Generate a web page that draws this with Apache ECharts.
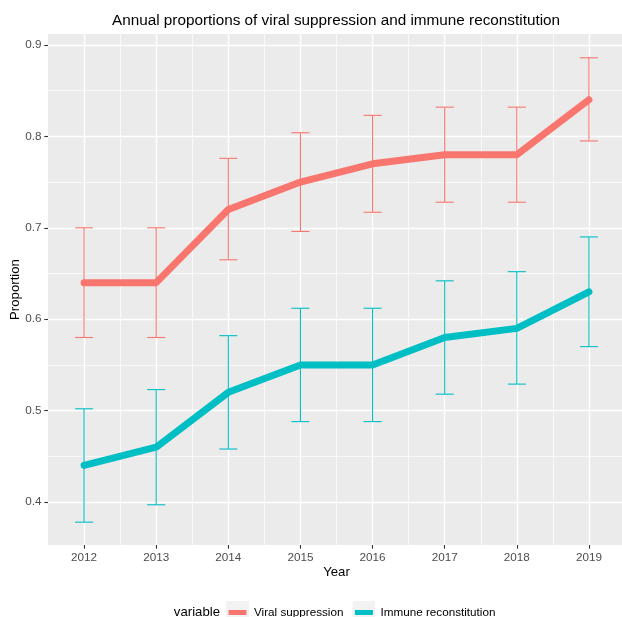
<!DOCTYPE html>
<html>
<head>
<meta charset="utf-8">
<script src="https://cdn.jsdelivr.net/npm/echarts@6/dist/echarts.min.js"></script>
<style>
  html, body { margin: 0; padding: 0; background: #ffffff; }
  #chart { width: 622px; height: 617px; }
</style>
</head>
<body>
<div id="chart"></div>
<script>
// Survey years
const years = [2012, 2013, 2014, 2015, 2016, 2017, 2018, 2019];

// Proportion with viral suppression, with lower/upper confidence limits
const viral     = [0.64, 0.64, 0.72, 0.75, 0.77, 0.78, 0.78, 0.84];
const viralLow  = [0.58, 0.58, 0.665, 0.696, 0.717, 0.728, 0.728, 0.795];
const viralHigh = [0.70, 0.70, 0.776, 0.804, 0.823, 0.832, 0.832, 0.886];

// Proportion with immune reconstitution, with lower/upper confidence limits
const immune     = [0.44, 0.46, 0.52, 0.55, 0.55, 0.58, 0.59, 0.63];
const immuneLow  = [0.378, 0.397, 0.458, 0.488, 0.488, 0.518, 0.529, 0.570];
const immuneHigh = [0.502, 0.523, 0.582, 0.612, 0.612, 0.642, 0.652, 0.690];

// Axis breaks
const yBreaks = [0.4, 0.5, 0.6, 0.7, 0.8, 0.9];
const yMinorBreaks = [0.45, 0.55, 0.65, 0.75, 0.85];
const xMinorBreaks = [2012.5, 2013.5, 2014.5, 2015.5, 2016.5, 2017.5, 2018.5];

const seriesNames = ['Viral suppression', 'Immune reconstitution'];
const colors = ['#F8766D', '#00BFC4'];

const FONT = '"Liberation Sans", Arial, sans-serif';

function pairs(xs, ys) { return xs.map((x, i) => [x, ys[i]]); }
function triples(xs, lo, hi) { return xs.map((x, i) => [x, lo[i], hi[i]]); }

// Error bars: vertical whisker with horizontal caps, cap width in x units
function errorBarRenderer(color) {
  return function (params, api) {
    const x = api.value(0);
    const lo = api.coord([x, api.value(1)]);
    const hi = api.coord([x, api.value(2)]);
    const halfCap = api.size([0.125, 0])[0];
    const style = { stroke: color, lineWidth: 1.1, fill: null };
    return {
      type: 'group',
      children: [
        { type: 'line', shape: { x1: lo[0], y1: lo[1], x2: hi[0], y2: hi[1] }, style },
        { type: 'line', shape: { x1: hi[0] - halfCap, y1: hi[1], x2: hi[0] + halfCap, y2: hi[1] }, style },
        { type: 'line', shape: { x1: lo[0] - halfCap, y1: lo[1], x2: lo[0] + halfCap, y2: lo[1] }, style }
      ]
    };
  };
}

// Panel grid lines (white, major thicker than minor)
const gridLines = []
  .concat(years.map(v => ({ xAxis: v, lineStyle: { width: 1.4 } })))
  .concat(xMinorBreaks.map(v => ({ xAxis: v, lineStyle: { width: 0.7 } })))
  .concat(yBreaks.map(v => ({ yAxis: v, lineStyle: { width: 1.4 } })))
  .concat(yMinorBreaks.map(v => ({ yAxis: v, lineStyle: { width: 0.7 } })));

// Legend key: light grey square with a coloured stroke across it
function keyIcon(color) {
  const svg = '<svg xmlns="http://www.w3.org/2000/svg" width="23" height="23">' +
    '<rect x="0" y="0" width="23" height="23" fill="#F2F2F2"/>' +
    '<rect x="2.5" y="9" width="18" height="5" fill="' + color + '"/></svg>';
  return 'image://data:image/svg+xml;charset=utf-8,' + encodeURIComponent(svg);
}

const chart = echarts.init(document.getElementById('chart'), null, { renderer: 'canvas' });

chart.setOption({
  animation: false,
  backgroundColor: '#ffffff',
  textStyle: { fontFamily: FONT },
  title: {
    text: 'Annual proportions of viral suppression and immune reconstitution',
    left: 336,
    top: 13,
    padding: 0,
    textAlign: 'center',
    textStyle: { fontFamily: FONT, fontSize: 15.3, fontWeight: 'normal', color: '#000000' }
  },
  grid: {
    left: 48, right: -3, top: 34, bottom: 72,
    show: true, backgroundColor: '#EBEBEB', borderWidth: 0,
    containLabel: false,
    outerBoundsMode: 'none'
  },
  legend: {
    data: seriesNames.map((n, i) => ({ name: n, icon: keyIcon(colors[i]) })),
    left: 226,
    top: 601,
    padding: 0,
    itemWidth: 23,
    itemHeight: 23,
    itemGap: 9,
    textStyle: { fontFamily: FONT, fontSize: 11.7, color: '#000000' },
    selectedMode: false
  },
  graphic: [{
    type: 'text',
    silent: true,
    style: {
      x: 220, y: 612.5,
      text: 'variable',
      align: 'right', verticalAlign: 'middle',
      font: '13.2px ' + FONT, fill: '#000000'
    }
  }],
  xAxis: {
    type: 'value',
    min: 2011.5,
    max: 2019.5,
    name: 'Year',
    nameLocation: 'middle',
    nameGap: 21,
    nameMoveOverlap: false,
    nameTextStyle: { fontFamily: FONT, fontSize: 13.2, color: '#000000' },
    axisLine: { show: false },
    axisTick: { show: true, customValues: years, length: 3.7, lineStyle: { color: '#333333', width: 1.1 } },
    axisLabel: { customValues: years, margin: 6.6, fontSize: 11.7, color: '#4D4D4D', fontFamily: FONT,
                 formatter: v => String(v) },
    splitLine: { show: false }
  },
  yAxis: {
    type: 'value',
    min: 0.353,
    max: 0.912,
    name: 'Proportion',
    nameLocation: 'middle',
    nameRotate: 90,
    nameGap: 26,
    nameMoveOverlap: false,
    nameTextStyle: { fontFamily: FONT, fontSize: 13.2, color: '#000000' },
    axisLine: { show: false },
    axisTick: { show: true, customValues: yBreaks, length: 3.7, lineStyle: { color: '#333333', width: 1.1 } },
    axisLabel: { customValues: yBreaks, margin: 6.6, fontSize: 11.7, color: '#4D4D4D', fontFamily: FONT,
                 formatter: v => v.toFixed(1) },
    splitLine: { show: false }
  },
  series: [
    {
      name: 'panel-grid',
      type: 'line',
      data: [],
      z: 1,
      silent: true,
      markLine: {
        z: 1,
        silent: true,
        symbol: ['none', 'none'],
        label: { show: false },
        lineStyle: { color: '#FFFFFF', type: 'solid' },
        emphasis: { disabled: true },
        data: gridLines
      }
    },
    {
      name: 'Viral suppression CI',
      type: 'custom',
      z: 3,
      silent: true,
      renderItem: errorBarRenderer(colors[0]),
      encode: { x: 0, y: [1, 2] },
      data: triples(years, viralLow, viralHigh)
    },
    {
      name: 'Immune reconstitution CI',
      type: 'custom',
      z: 3,
      silent: true,
      renderItem: errorBarRenderer(colors[1]),
      encode: { x: 0, y: [1, 2] },
      data: triples(years, immuneLow, immuneHigh)
    },
    {
      name: seriesNames[0],
      type: 'line',
      z: 4,
      data: pairs(years, viral),
      showSymbol: false,
      symbol: 'none',
      color: colors[0],
      lineStyle: { width: 7, color: colors[0], join: 'round', cap: 'round' }
    },
    {
      name: seriesNames[1],
      type: 'line',
      z: 4,
      data: pairs(years, immune),
      showSymbol: false,
      symbol: 'none',
      color: colors[1],
      lineStyle: { width: 7, color: colors[1], join: 'round', cap: 'round' }
    }
  ]
});
</script>
</body>
</html>
